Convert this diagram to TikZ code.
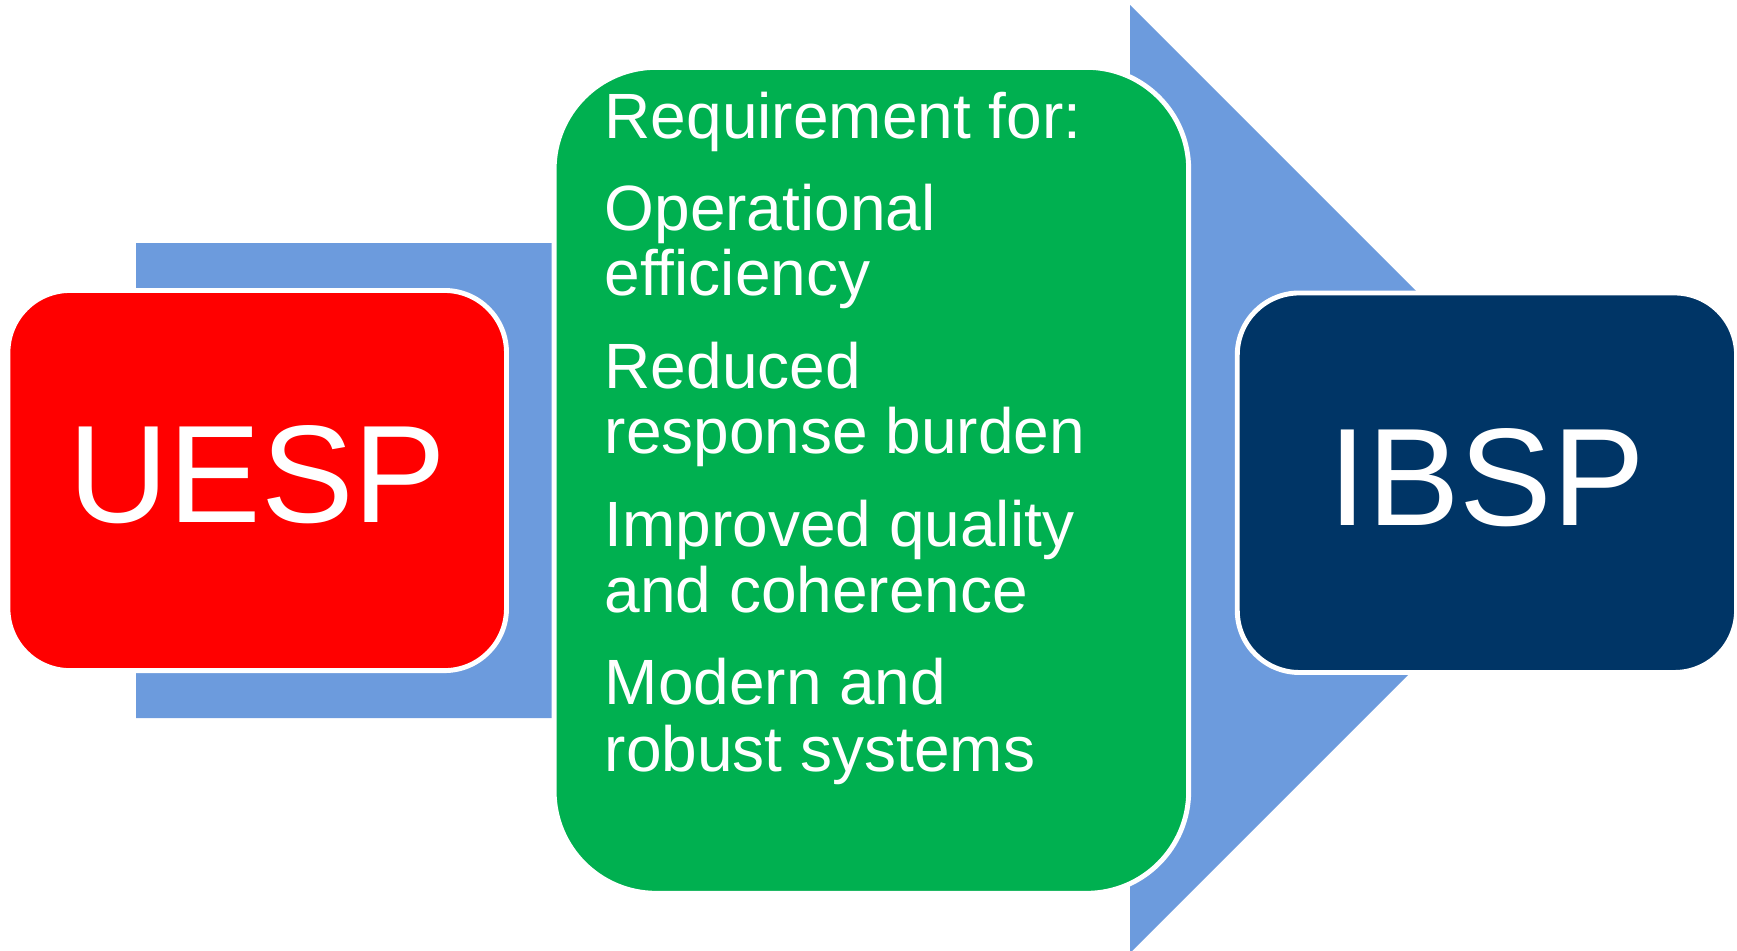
\documentclass[tikz,border=0pt]{standalone}
\usepackage{fontspec}
\usepackage{tikz}
\setmainfont{Liberation Sans}
\definecolor{arrowblue}{RGB}{108,155,221}
\definecolor{uespred}{RGB}{255,0,0}
\definecolor{reqgreen}{RGB}{0,176,80}
\definecolor{ibspnavy}{RGB}{0,53,102}

\begin{document}
\begin{tikzpicture}[x=0.01cm,y=-0.01cm]
\tikzstyle{every node}+=[inner sep=0pt]
\tikzstyle{box}=[draw=white, line width=1.4pt, text=white]
\tikzstyle{bigname}=[box, rounded corners=0.62cm, font=\fontsize{39.5}{40}\selectfont, text height=0.99cm, text depth=0.142cm]
\tikzstyle{reqline}=[text=white, anchor=base west, font=\fontsize{18.2}{22}\selectfont]
\useasboundingbox (0,0) rectangle (1737,950);
\clip (0,0) rectangle (1737,950);
\fill [arrowblue] (136,243) -- (1130,243) -- (1130,5) -- (1604,479) -- (1130,953) -- (1130,718) -- (136,718) -- cycle;
\node [bigname, fill=uespred, minimum width=4.983cm, minimum height=3.799cm] (uesp) at (257.2,480.5) {UESP};
\node [box, fill=reqgreen, rounded corners=1.02cm, minimum width=6.342cm, minimum height=8.255cm] (req) at (871.4,480.3) {};
\node [bigname, fill=ibspnavy, minimum width=4.99cm, minimum height=3.793cm] (ibsp) at (1486.9,482.7) {IBSP};
\foreach \y/\txt [count=\i] in {138.3/Requirement for:, 230/Operational, 295/efficiency, 388.3/Reduced, 453.3/response burden, 546.7/Improved quality, 612.7/and coherence, 704.3/Modern and, 771/robust systems}
  \node [reqline] (req\i) at (604,\y) {\txt};
\end{tikzpicture}
\end{document}
